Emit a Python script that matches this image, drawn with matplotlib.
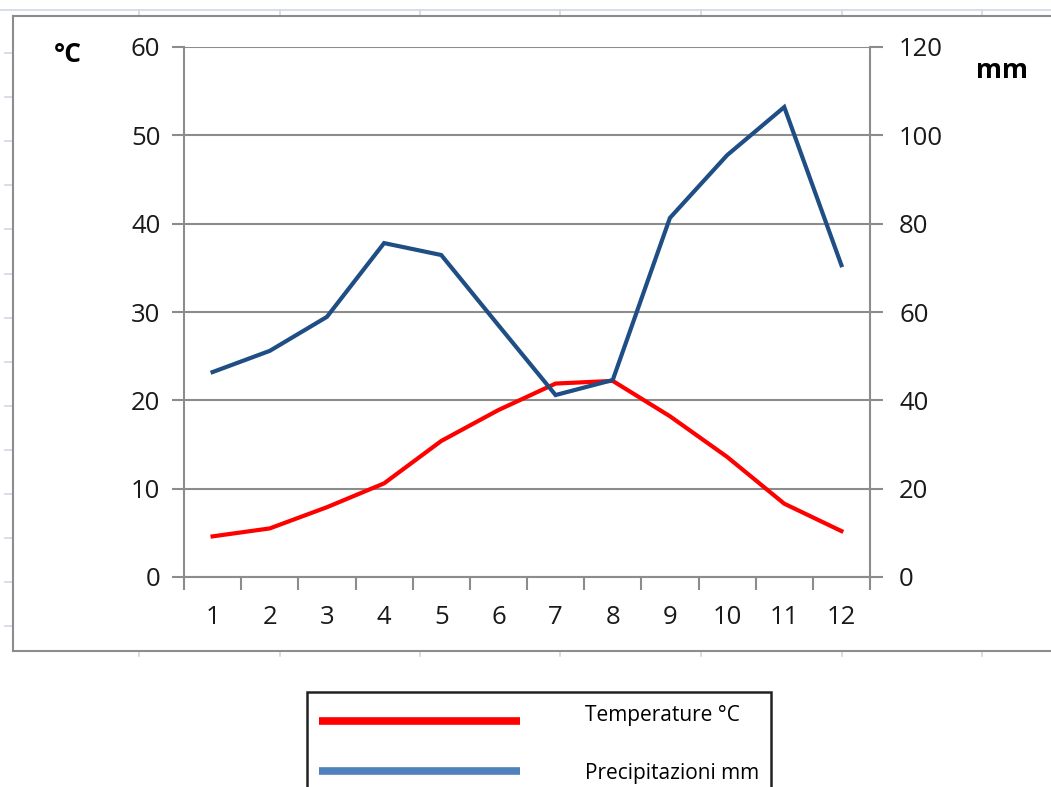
import matplotlib
matplotlib.use("Agg")
import matplotlib.pyplot as plt
from matplotlib.lines import Line2D
from matplotlib.patches import Rectangle

W, H = 1051, 787

months = [1, 2, 3, 4, 5, 6, 7, 8, 9, 10, 11, 12]
temperature = [4.6, 5.5, 7.9, 10.6, 15.4, 18.9, 21.9, 22.2, 18.2, 13.6, 8.3, 5.2]
precipitation = [46.4, 51.2, 58.9, 75.6, 72.9, 57.0, 41.2, 44.6, 81.3, 95.5, 106.4, 70.6]
temp_ticks = [0, 10, 20, 30, 40, 50, 60]
prec_ticks = [0, 20, 40, 60, 80, 100, 120]
temp_label = "Temperature °C"
prec_label = "Precipitazioni mm"

plt.rcParams['font.family'] = ['Open Sans', 'DejaVu Sans']

fig = plt.figure(figsize=(W / 100, H / 100), dpi=100)


def fx(px):
    return px / W


def fy(py):
    return 1 - py / H


# spreadsheet cell lines behind the chart
sheet = '#D0D7E5'
fig.add_artist(Line2D([0, 1], [fy(10), fy(10)], color=sheet, lw=1.2))
for cx in [139, 279.5, 420, 560.5, 701, 841.5, 982]:
    fig.add_artist(Line2D([fx(cx), fx(cx)], [fy(10), fy(16)], color=sheet, lw=1.2))
    fig.add_artist(Line2D([fx(cx), fx(cx)], [fy(651), fy(656)], color=sheet, lw=1.2))
for k in range(14):
    ry = 53 + 44.1 * k
    fig.add_artist(Line2D([fx(5), fx(13)], [fy(ry), fy(ry)], color=sheet, lw=1.2))

# chart frame
frame = '#8C8C8C'
fig.add_artist(Line2D([fx(13), fx(13)], [fy(16), fy(651)], color=frame, lw=1.5))
fig.add_artist(Line2D([fx(13), 1], [fy(16), fy(16)], color=frame, lw=1.5))
fig.add_artist(Line2D([fx(13), 1], [fy(651), fy(651)], color=frame, lw=1.5))

# plot area
ax = fig.add_axes([fx(184), fy(577), (870 - 184) / W, (577 - 47) / H])
ax2 = ax.twinx()

grid = '#8C8C8C'
ax.set_xlim(0.5, 12.5)
ax.set_ylim(0, 60)
ax2.set_ylim(0, 120)
ax.set_yticks(temp_ticks)
ax2.set_yticks(prec_ticks)
ax.set_xticks(months)
ax.set_xticks([m - 0.5 for m in months] + [12.5], minor=True)
ax.yaxis.grid(True, color=grid, lw=1.5)
ax.set_axisbelow(True)

for a in (ax, ax2):
    a.spines['top'].set_visible(False)
    for s in a.spines.values():
        s.set_color(grid)
        s.set_linewidth(1.5)
ax.spines['right'].set_visible(False)
ax2.spines['left'].set_visible(False)
ax2.spines['bottom'].set_visible(False)

fs = 18.5
ax.tick_params(axis='x', which='major', length=0, pad=20, labelsize=fs, labelcolor='#1a1a1a')
ax.tick_params(axis='x', which='minor', length=9, width=1.5, color=grid, direction='out')
ax.tick_params(axis='y', length=9, width=1.5, color=grid, pad=8, labelsize=fs, labelcolor='#1a1a1a')
ax2.tick_params(axis='y', length=9, width=1.5, color=grid, pad=12, labelsize=fs, labelcolor='#1a1a1a')

ax.plot(months, temperature, color='#FF0000', lw=3, solid_joinstyle='round', zorder=3)
ax2.plot(months, precipitation, color='#1F4E84', lw=3, solid_joinstyle='miter', zorder=3)

fig.text(fx(68), fy(55), "°C", fontsize=19, fontweight='bold', ha='center', va='center')
fig.text(fx(1002), fy(70), "mm", fontsize=19, fontweight='bold', ha='center', va='center')

# legend
fig.add_artist(Rectangle((fx(307), fy(800)), (771 - 307) / W, (800 - 692) / H,
                         fill=False, edgecolor='#222222', lw=1.8))
fig.add_artist(Line2D([fx(319), fx(520)], [fy(721), fy(721)], color='#FF0000', lw=5.5,
                      solid_capstyle='butt'))
fig.add_artist(Line2D([fx(319), fx(520)], [fy(771), fy(771)], color='#4F81BD', lw=5.5,
                      solid_capstyle='butt'))
fig.text(fx(585), fy(716), temp_label, fontsize=15, ha='left', va='center')
fig.text(fx(585), fy(774), prec_label, fontsize=15, ha='left', va='center')

fig.savefig("out.png", dpi=100)
